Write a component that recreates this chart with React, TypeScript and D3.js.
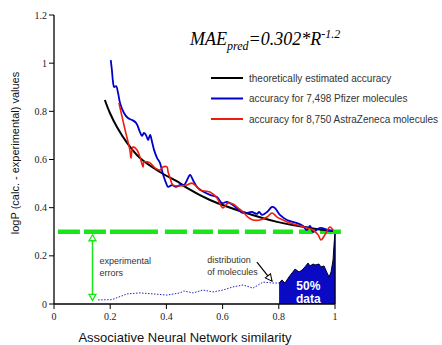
import React from 'react';
import * as d3 from 'd3';

const xTicks = [0, 0.2, 0.4, 0.6, 0.8, 1];
const xTickLabels = ['0', '0.2', '0.4', '0.6', '0.8', '1'];
const yTicks = [0, 0.2, 0.4, 0.6, 0.8, 1, 1.2];
const yTickLabels = ['0', '0.2', '0.4', '0.6', '0.8', '1', '1.2'];

// theoretically estimated accuracy
const theoX = [0.181, 0.199, 0.224, 0.26, 0.306, 0.377, 0.448, 0.473, 0.555, 0.673, 0.794, 0.911, 0.993];
const theoY = [0.847, 0.793, 0.735, 0.669, 0.606, 0.548, 0.502, 0.482, 0.432, 0.382, 0.341, 0.316, 0.303];

// Pfizer
const pfizerX = [0.202, 0.206, 0.21, 0.214, 0.221, 0.228, 0.235, 0.249, 0.263, 0.278, 0.292, 0.306, 0.313, 0.32, 0.327, 0.335, 0.342, 0.349, 0.356, 0.367, 0.377, 0.384, 0.391, 0.399, 0.406, 0.42, 0.434, 0.448, 0.463, 0.477, 0.484, 0.498, 0.512, 0.555, 0.58, 0.598, 0.616, 0.637, 0.673, 0.705, 0.722, 0.73, 0.74, 0.758, 0.776, 0.786, 0.804, 0.829, 0.865, 0.886, 0.9, 0.911, 0.922, 0.947, 0.975, 0.993];
const pfizerY = [1.013, 0.972, 0.922, 0.901, 0.905, 0.876, 0.835, 0.793, 0.772, 0.764, 0.752, 0.714, 0.698, 0.71, 0.702, 0.681, 0.702, 0.673, 0.64, 0.606, 0.586, 0.556, 0.527, 0.502, 0.486, 0.494, 0.486, 0.494, 0.494, 0.523, 0.536, 0.507, 0.482, 0.453, 0.444, 0.419, 0.424, 0.411, 0.378, 0.382, 0.374, 0.382, 0.37, 0.382, 0.403, 0.399, 0.37, 0.349, 0.336, 0.324, 0.307, 0.324, 0.299, 0.316, 0.307, 0.303];

// AstraZeneca
const azX = [0.231, 0.253, 0.27, 0.274, 0.281, 0.295, 0.306, 0.317, 0.32, 0.331, 0.342, 0.359, 0.377, 0.388, 0.402, 0.406, 0.413, 0.423, 0.448, 0.473, 0.491, 0.509, 0.52, 0.555, 0.58, 0.601, 0.619, 0.637, 0.655, 0.673, 0.69, 0.708, 0.733, 0.758, 0.776, 0.794, 0.815, 0.84, 0.865, 0.9, 0.922, 0.94, 0.95, 0.964, 0.982, 0.993];
const azY = [0.835, 0.723, 0.64, 0.606, 0.652, 0.64, 0.61, 0.569, 0.59, 0.59, 0.586, 0.565, 0.556, 0.569, 0.569, 0.548, 0.523, 0.494, 0.49, 0.494, 0.502, 0.486, 0.473, 0.465, 0.44, 0.399, 0.419, 0.415, 0.399, 0.382, 0.361, 0.349, 0.349, 0.361, 0.378, 0.361, 0.349, 0.336, 0.328, 0.316, 0.307, 0.287, 0.266, 0.287, 0.32, 0.307];

// distribution of molecules (dotted part)
const distX = [0.157, 0.206, 0.26, 0.306, 0.352, 0.402, 0.448, 0.462, 0.495, 0.53, 0.566, 0.601, 0.637, 0.673, 0.708, 0.744, 0.779, 0.801];
const distY = [0.017, 0.018, 0.042, 0.046, 0.042, 0.037, 0.046, 0.054, 0.046, 0.058, 0.05, 0.058, 0.071, 0.079, 0.066, 0.091, 0.087, 0.087];

// distribution of molecules (filled 50% part)
const fillX = [0.801, 0.811, 0.822, 0.836, 0.847, 0.858, 0.872, 0.883, 0.893, 0.904, 0.911, 0.922, 0.929, 0.943, 0.95, 0.961, 0.972, 0.979, 0.986, 0.993, 0.996, 1.0];
const fillY = [0.087, 0.1, 0.087, 0.112, 0.129, 0.145, 0.133, 0.141, 0.154, 0.17, 0.158, 0.166, 0.162, 0.166, 0.154, 0.158, 0.129, 0.112, 0.133, 0.183, 0.237, 0.299];

const errorLevel = 0.3;
const legendLabels = [
  'theoretically estimated accuracy',
  'accuracy for 7,498 Pfizer molecules',
  'accuracy for 8,750 AstraZeneca molecules',
];
const legendColors = ['#000000', '#0000cc', '#ee1c0c'];

export default function App() {
  const W = 442, H = 345;
  const x = d3.scaleLinear().domain([0, 1]).range([54, 335]);
  const y = d3.scaleLinear().domain([0, 1.2]).range([304, 15]);

  const line = d3.line<[number, number]>().x(d => x(d[0])).y(d => y(d[1])).curve(d3.curveCatmullRom);
  const lineLin = d3.line<[number, number]>().x(d => x(d[0])).y(d => y(d[1]));
  const zip = (a: number[], b: number[]) => a.map((v, i) => [v, b[i]] as [number, number]);

  const fillPts = zip(fillX, fillY);
  const area = d3.area<[number, number]>().x(d => x(d[0])).y0(y(0)).y1(d => y(d[1]));

  const green = '#19e619';
  const gy = y(errorLevel);
  const ex = x(0.137);

  const serif = '"Liberation Serif", "Times New Roman", serif';
  const sans = '"Liberation Sans", Arial, sans-serif';

  return (
    <svg width={W} height={H} style={{ position: 'absolute', left: 0, top: 0, background: '#fff' }}>
      <defs>
        <marker id="arr" viewBox="0 0 10 10" refX="9" refY="5" markerWidth="7" markerHeight="7" orient="auto">
          <path d="M1,1 L9,5 L1,9 Z" fill="#fff" stroke="#000" strokeWidth={1.2} />
        </marker>
      </defs>

      {/* filled 50% data region */}
      <path d={area(fillPts) + ''} fill="#0a0ac4" />
      <path d={lineLin(fillPts) + ''} fill="none" stroke="#000022" strokeWidth={1} />
      <line x1={x(1)} x2={x(1)} y1={y(fillY[fillY.length - 1])} y2={y(0)} stroke="#000033" strokeWidth={1.5} />
      <text x={x(0.905)} y={y(0.057)} fill="#fff" fontFamily={sans} fontWeight="bold" fontSize={12} textAnchor="middle">50%</text>
      <text x={x(0.905)} y={y(0.003)} fill="#fff" fontFamily={sans} fontWeight="bold" fontSize={12} textAnchor="middle">data</text>

      {/* dotted distribution */}
      <path d={lineLin(zip(distX, distY)) + ''} fill="none" stroke="#2222cc" strokeWidth={1} strokeDasharray="1.5,1.5" />

      {/* green error level dashed line */}
      <line x1={x(0.014)} x2={x(1.021)} y1={gy} y2={gy} stroke={green} strokeWidth={4.5}
        strokeDasharray="22,4,22,4,48,7,22,6,20,5,21,6,21,7,20,6,14,7,21,100" />

      {/* data lines */}
      <path d={line(zip(theoX, theoY)) + ''} fill="none" stroke="#000" strokeWidth={2} />
      <path d={line(zip(pfizerX, pfizerY)) + ''} fill="none" stroke={legendColors[1]} strokeWidth={1.8} />
      <path d={line(zip(azX, azY)) + ''} fill="none" stroke={legendColors[2]} strokeWidth={1.6} />

      {/* error bar arrow */}
      <line x1={ex} x2={ex} y1={gy + 4} y2={y(0.017)} stroke={green} strokeWidth={1.5} />
      <path d={`M${ex},${gy + 3} L${ex - 3.5},${gy + 9} L${ex + 3.5},${gy + 9} Z`} fill="#fff" stroke={green} strokeWidth={1.3} />
      <path d={`M${ex},${y(0.015)} L${ex - 3.5},${y(0.015) - 6} L${ex + 3.5},${y(0.015) - 6} Z`} fill="#fff" stroke={green} strokeWidth={1.3} />
      <text fontFamily={sans} fontSize={9} fill="#333">
        <tspan x={x(0.162)} y={y(0.167)}>experimental</tspan>
        <tspan x={x(0.162)} y={y(0.117)}>errors</tspan>
      </text>

      {/* distribution annotation */}
      <text fontFamily={sans} fontSize={9} fill="#333">
        <tspan x={x(0.545)} y={y(0.17)}>distribution</tspan>
        <tspan x={x(0.545)} y={y(0.12)}>of molecules</tspan>
      </text>
      <line x1={x(0.722)} y1={y(0.174)} x2={x(0.776)} y2={y(0.095)} stroke="#000" strokeWidth={1.2} markerEnd="url(#arr)" />

      {/* axes */}
      <line x1={x(0)} x2={x(0)} y1={y(1.2)} y2={y(0)} stroke="#000" strokeWidth={1.3} />
      <line x1={x(0)} x2={x(1)} y1={y(0)} y2={y(0)} stroke="#000" strokeWidth={1.3} />
      {yTicks.map((t, i) => (
        <g key={'y' + i}>
          <line x1={x(0) - 5} x2={x(0)} y1={y(t)} y2={y(t)} stroke="#000" strokeWidth={1} />
          <text x={x(0) - 7} y={y(t) + 3.5} textAnchor="end" fontFamily={serif} fontSize={10} fill="#222">{yTickLabels[i]}</text>
        </g>
      ))}
      {xTicks.map((t, i) => (
        <g key={'x' + i}>
          <line x1={x(t)} x2={x(t)} y1={y(0)} y2={y(0) + 5} stroke="#000" strokeWidth={1} />
          <text x={x(t)} y={y(0) + 16} textAnchor="middle" fontFamily={serif} fontSize={10} fill="#222">{xTickLabels[i]}</text>
        </g>
      ))}
      <text x={185} y={342} textAnchor="middle" fontFamily={sans} fontSize={13} fill="#111">Associative Neural Network similarity</text>
      <text transform={`translate(19,${153}) rotate(-90)`} textAnchor="middle" fontFamily={sans} fontSize={11} fill="#111">logP (calc. - experimental) values</text>

      {/* formula */}
      <text x={190} y={45} fontFamily={serif} fontStyle="italic" fontSize={18} fill="#000">
        MAE<tspan fontSize={12} dy={5}>pred</tspan><tspan dy={-5}>=0.302*R</tspan><tspan fontSize={12} dy={-7}>-1.2</tspan>
      </text>

      {/* legend */}
      {legendLabels.map((l, i) => (
        <g key={'l' + i}>
          <line x1={211} x2={243} y1={78 + i * 20.5} y2={78 + i * 20.5} stroke={legendColors[i]} strokeWidth={2} />
          <text x={249} y={78 + i * 20.5 + 3.5} fontFamily={sans} fontSize={10} fill="#333">{l}</text>
        </g>
      ))}
    </svg>
  );
}
